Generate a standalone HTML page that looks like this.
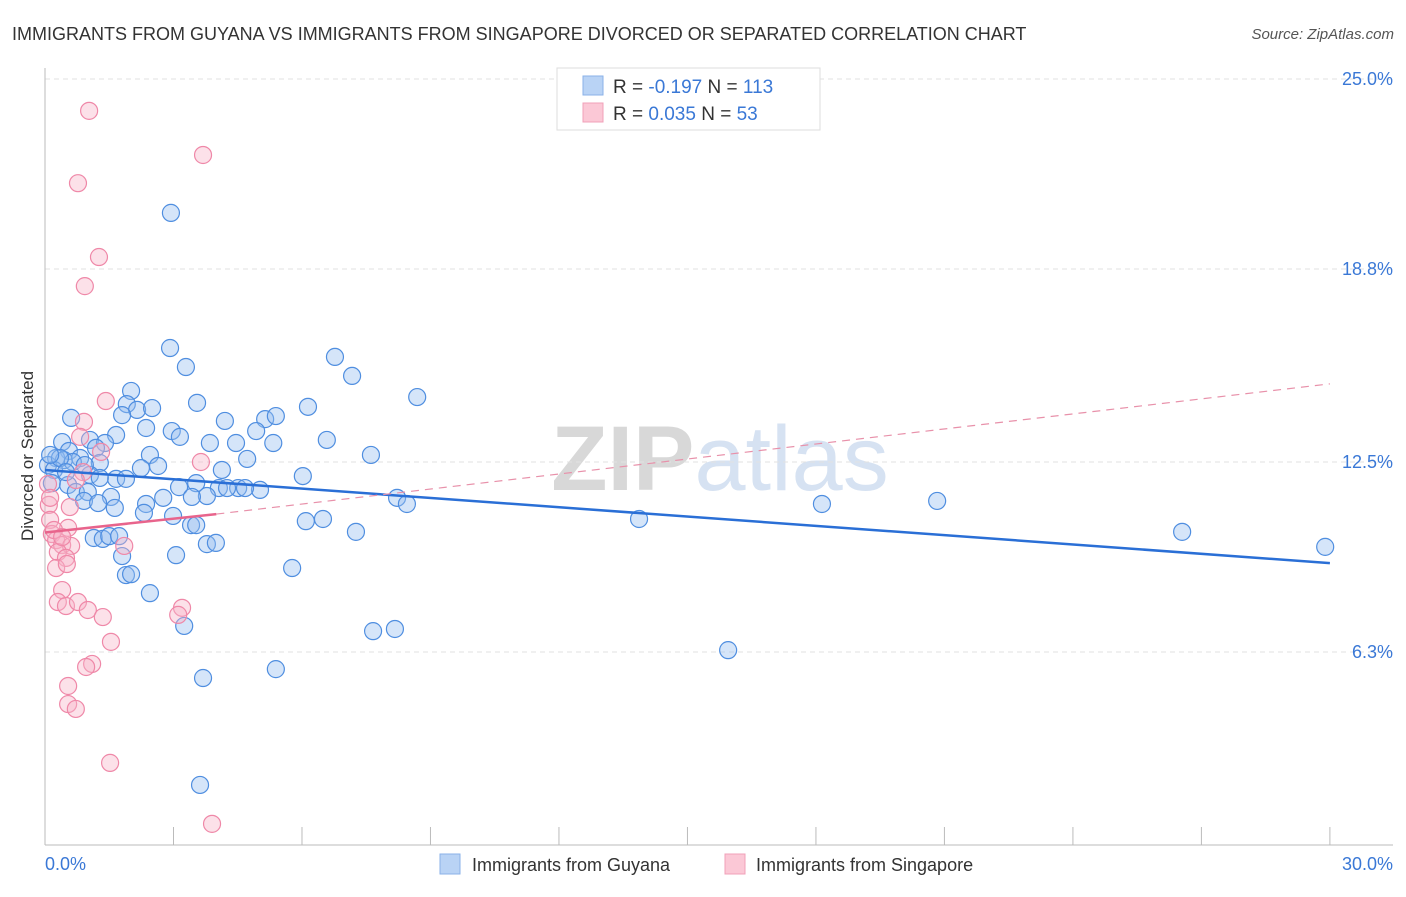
<!DOCTYPE html>
<html><head><meta charset="utf-8"><style>
body{margin:0;background:#fff;font-family:"Liberation Sans",sans-serif}
svg text{font-family:"Liberation Sans",sans-serif}
</style></head><body>
<svg id="chart" width="1406" height="892" xmlns="http://www.w3.org/2000/svg">
<text x="12" y="40" font-size="18" fill="#333">IMMIGRANTS FROM GUYANA VS IMMIGRANTS FROM SINGAPORE DIVORCED OR SEPARATED CORRELATION CHART</text>
<text x="1394" y="39" font-size="15" fill="#555" text-anchor="end" font-style="italic">Source: ZipAtlas.com</text>
<text x="720" y="490" font-size="92" text-anchor="middle" fill="#e4e4e4" font-family="Liberation Serif"><tspan font-weight="bold" fill="#d8d8d8">ZIP</tspan><tspan fill="#d6e2f2" font-family="Liberation Sans">atlas</tspan></text>
<text transform="translate(33,456) rotate(-90)" font-size="17" fill="#333" text-anchor="middle">Divorced or Separated</text>
<g id="grid"></g><g id="axes"></g><g id="pts"></g><g id="lines"></g>
<g>
<rect x="557" y="68" width="263" height="62" fill="#fff" stroke="#ddd"/>
<rect x="583" y="76" width="20" height="19" fill="#b9d3f5" stroke="#8ab2e8"/>
<rect x="583" y="103" width="20" height="19" fill="#fbc8d6" stroke="#f0a0b8"/>
<text x="613" y="93" font-size="19" fill="#333">R = <tspan fill="#3a78d6">-0.197</tspan>   N = <tspan fill="#3a78d6">113</tspan></text>
<text x="613" y="120" font-size="19" fill="#333">R =  <tspan fill="#3a78d6">0.035</tspan>   N =  <tspan fill="#3a78d6">53</tspan></text>
</g>
<g>
<rect x="440" y="854" width="20" height="20" fill="#b9d3f5" stroke="#8ab2e8"/>
<text x="472" y="871" font-size="18" fill="#333">Immigrants from Guyana</text>
<rect x="725" y="854" width="20" height="20" fill="#fbc8d6" stroke="#f0a0b8"/>
<text x="756" y="871" font-size="18" fill="#333">Immigrants from Singapore</text>
</g>
</svg>
<script>
const yTicks=[25,18.8,12.5,6.3];
const yTickLabels=["25.0%","18.8%","12.5%","6.3%"];
const xTicks=[0,3,6,9,12,15,18,21,24,27,30];
const guyanaX=[2.94,2.92,3.29,6.77,7.17,8.69,2.01,1.91,2.15,2.5,1.8,3.55,6.14,5.14,5.39,0.61,4.2,2.36,2.96,3.15,1.66,4.93,6.58,3.85,4.46,5.33,0.4,1.05,1.4,1.19,0.56,2.45,7.61,0.26,0.44,0.82,0.65,0.07,0.21,4.72,2.64,2.24,1.28,4.13,1.05,1.66,1.89,6.02,0.16,0.54,3.13,3.53,4.06,4.51,5.02,4.67,0.72,1.0,3.78,4.25,1.54,2.76,3.43,0.91,1.24,2.36,1.63,8.22,8.45,18.14,20.83,2.31,2.99,6.09,6.49,13.87,3.41,3.53,7.26,26.55,29.89,1.14,1.35,1.5,1.73,3.78,3.99,1.8,3.06,5.77,1.89,2.01,2.45,3.25,7.66,8.17,15.95,5.39,3.69,3.62,0.35,0.12,0.49,1.28,0.93];
const guyanaY=[20.63,16.22,15.6,15.93,15.31,14.62,14.82,14.39,14.2,14.26,14.03,14.43,14.3,13.9,14.0,13.94,13.84,13.61,13.51,13.32,13.38,13.51,13.22,13.12,13.12,13.12,13.15,13.22,13.12,12.96,12.86,12.73,12.73,12.63,12.56,12.63,12.5,12.4,12.24,12.6,12.37,12.3,12.47,12.24,12.08,11.95,11.95,12.04,11.81,11.75,11.68,11.81,11.65,11.65,11.59,11.65,11.52,11.52,11.39,11.65,11.36,11.33,11.36,11.23,11.16,11.13,11.0,11.33,11.13,11.13,11.23,10.84,10.74,10.57,10.64,10.64,10.44,10.44,10.22,10.22,9.73,10.02,9.99,10.08,10.08,9.82,9.86,9.43,9.46,9.04,8.81,8.84,8.22,7.15,6.98,7.05,6.36,5.74,5.45,1.96,12.63,12.73,12.17,11.98,12.4];
const singX=[1.03,3.69,0.77,1.26,0.93,1.42,0.91,0.82,3.64,1.31,0.89,0.72,0.07,0.09,0.58,0.12,0.54,0.16,0.26,0.4,0.61,1.85,0.3,0.49,0.26,0.51,0.4,0.3,0.49,0.77,1.0,1.35,3.2,3.11,1.54,1.1,0.96,0.54,0.54,0.72,1.52,3.9,0.12,0.21,0.4];
const singY=[23.96,22.52,21.6,19.19,18.24,14.49,13.81,13.32,12.5,12.83,12.17,11.91,11.78,11.1,11.03,10.61,10.35,10.15,9.95,9.79,9.76,9.76,9.56,9.37,9.04,9.17,8.32,7.93,7.8,7.93,7.67,7.44,7.74,7.51,6.63,5.91,5.81,5.19,4.6,4.44,2.68,0.69,11.33,10.28,10.05];
const guyanaTrend=[12.24,9.2];
const singTrend=[10.2,10.8,15.05];
const X=v=>45+v*42.83, Y=v=>845-v*30.64;
const NS="http://www.w3.org/2000/svg";
function mk(p,t,a){const e=document.createElementNS(NS,t);for(const k in a)e.setAttribute(k,a[k]);document.getElementById(p).appendChild(e);return e;}
yTicks.forEach((t,i)=>{
 const l=mk('grid','line',{x1:45,x2:1393,y1:Y(t),y2:Y(t),stroke:'#e2e2e2','stroke-dasharray':'5,4'});
 
 
 const tx=mk('grid','text',{x:1393,y:Y(t)+6,'font-size':18,fill:'#3a78d6','text-anchor':'end'});
 tx.textContent=yTickLabels[i];
 
 
});
const ya=mk('axes','line',{x1:45,x2:45,y1:68,y2:845,stroke:'#bbb'});


const xa=mk('axes','line',{x1:45,x2:1393,y1:845,y2:845,stroke:'#bbb'});


xTicks.forEach(t=>{const l=mk('axes','line',{x1:X(t),x2:X(t),y1:827,y2:845,stroke:'#bbb'});
 
 });
const x0=mk('axes','text',{x:45,y:870,'font-size':18,fill:'#3a78d6'});x0.textContent='0.0%';


const x1=mk('axes','text',{x:1393,y:870,'font-size':18,fill:'#3a78d6','text-anchor':'end'});x1.textContent='30.0%';


guyanaX.forEach((v,i)=>{const c=mk('pts','circle',{cx:X(v),cy:Y(guyanaY[i]),r:8.5,fill:'rgba(150,190,240,0.4)',stroke:'#4f8ee0','stroke-width':1.2});
 
 });
singX.forEach((v,i)=>{const c=mk('pts','circle',{cx:X(v),cy:Y(singY[i]),r:8.5,fill:'rgba(248,180,200,0.4)',stroke:'#ef88a8','stroke-width':1.2});
 
 });
const gl=mk('lines','line',{x1:X(0),y1:Y(guyanaTrend[0]),x2:X(30),y2:Y(guyanaTrend[1]),stroke:'#2a6fd6','stroke-width':2.5});


const sd=mk('lines','line',{x1:X(4),y1:Y(singTrend[1]),x2:X(30),y2:Y(singTrend[2]),stroke:'#e891aa','stroke-width':1.2,'stroke-dasharray':'8,6'});


const sl=mk('lines','line',{x1:X(0),y1:Y(singTrend[0]),x2:X(4),y2:Y(singTrend[1]),stroke:'#e8648c','stroke-width':2.5});


</script>
</body></html>
